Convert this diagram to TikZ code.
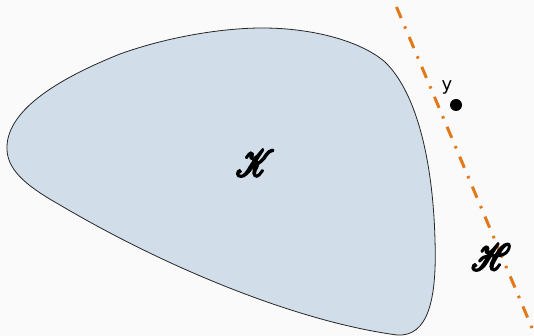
\documentclass[tikz,border=0pt]{standalone}
\usepackage{amsmath}
\usepackage{mathrsfs}
\usepackage{fontspec}
\newfontfamily\labelfont{DejaVu Sans}
\definecolor{bgcol}{RGB}{250,250,250}
\definecolor{blobfill}{RGB}{209,222,234}
\definecolor{hypcol}{RGB}{226,120,24}
\tikzset{
  blob/.style={draw=black!85, line width=0.8pt, fill=blobfill},
  hyperplane/.style={draw=hypcol, line width=3pt, dash pattern=on 12pt off 9pt on 2.5pt off 9pt},
  scriptlabel/.style={inner sep=0pt},
  ptlabel/.style={inner sep=0pt, font=\labelfont\fontsize{18}{18}\selectfont},
}
\newcommand{\bigscript}[1]{\scalebox{3.1}[3.7]{\special{pdf:literal direct 2 Tr 0.65 w}$\mathscr{#1}$\special{pdf:literal direct 0 Tr 1 w}}}
\begin{document}
\begin{tikzpicture}[x=1pt,y=-1pt]
\fill[bgcol] (0,0) rectangle (534,336);
\useasboundingbox (0,0) rectangle (534,336);
\draw[blob] (7,150) .. controls (5,112) and (55,80) .. (120,54)
  .. controls (170,36) and (225,28) .. (262,28)
  .. controls (315,28) and (362,42) .. (385,62)
  .. controls (418,94) and (433,165) .. (435,240)
  .. controls (437,300) and (428,337) .. (397,335)
  .. controls (300,322) and (170,270) .. (60,205)
  .. controls (30,188) and (8,172) .. (7,150) -- cycle;
\coordinate (h1) at (396.5,7);
\coordinate (h2) at (532,328);
\draw[hyperplane] (h1) -- (h2);
\node[scriptlabel] (K) at (255,163) {\bigscript{K}};
\node[scriptlabel] (H) at (491,257) {\bigscript{H}};
\fill (456,105) circle (6pt) coordinate (y);
\node[ptlabel] (ylab) at (447,87) {y};
\end{tikzpicture}
\end{document}
